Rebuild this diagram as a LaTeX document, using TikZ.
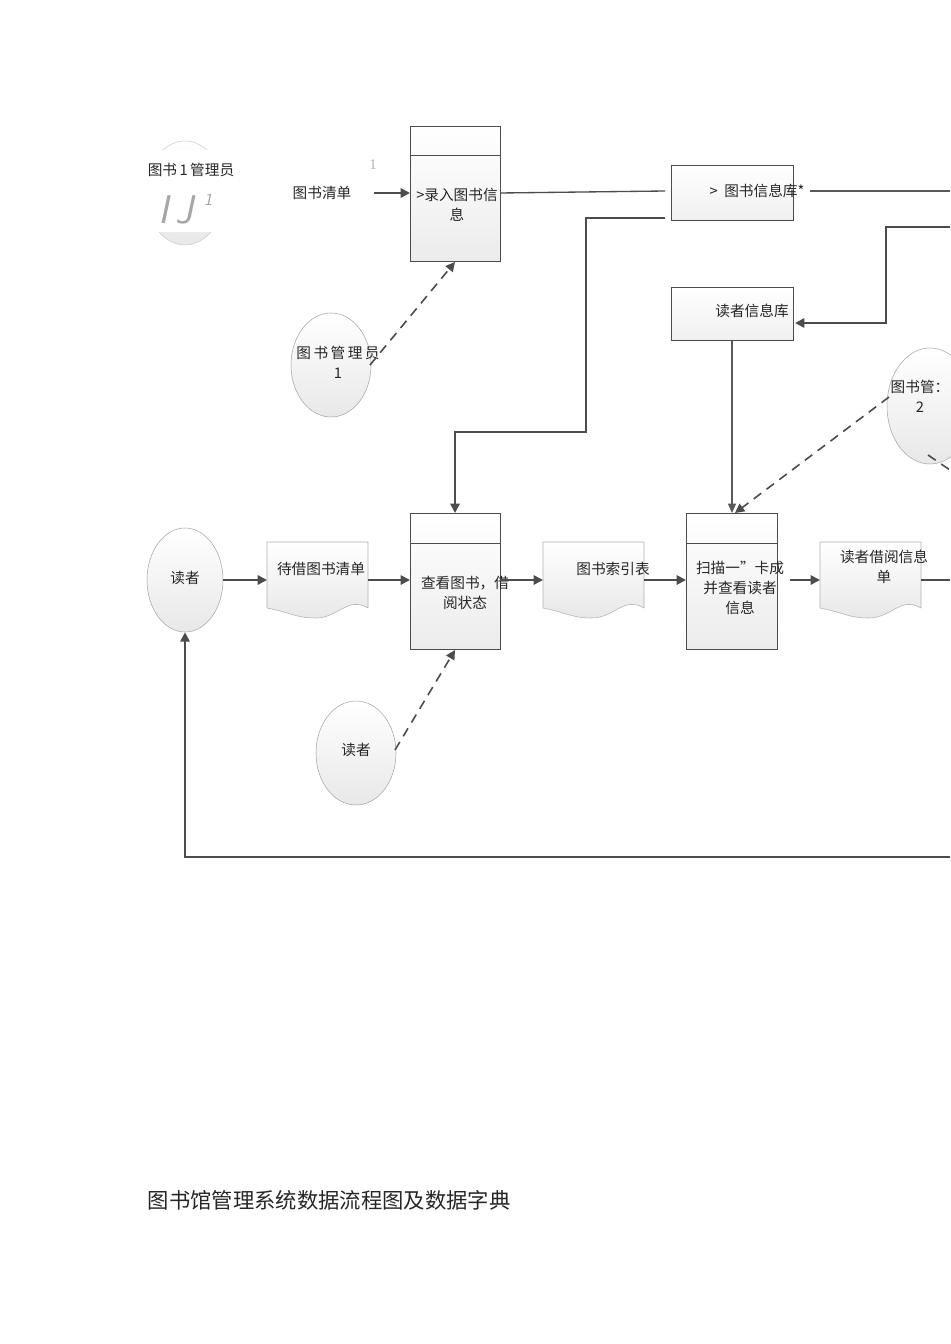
\documentclass[tikz,border=0pt]{standalone}
\usepackage{fontspec}
\setmainfont{Liberation Serif}
\newfontfamily\cjk{Noto Sans CJK SC}
\usetikzlibrary{arrows.meta,shapes.geometric}
\begin{document}
\begin{tikzpicture}[x=0.75pt,y=-0.75pt,
  every node/.style={font=\cjk\fontsize{11}{15}\selectfont,text=black!85},
  oval/.style={ellipse,draw=gray!70,top color=white,bottom color=gray!18,minimum width={78*0.75pt},minimum height={104*0.75pt},inner sep=0pt},
  proc/.style={draw=gray!60!black,top color=white,bottom color=gray!15,minimum width={90*0.75pt},minimum height={136*0.75pt},inner sep=0pt,anchor=north west},
  store/.style={draw=gray!60!black,top color=white,bottom color=gray!12,minimum width={122*0.75pt},minimum height={55*0.75pt},inner sep=0pt,anchor=north west},
  flow/.style={line width=1.4pt,draw=black!70,-{Triangle[length=7pt,width=7pt]}},
  thinflow/.style={line width=0.9pt,draw=black!65,-{Triangle[length=7pt,width=6pt]}},
  dflow/.style={line width=1.2pt,draw=black!70,dash pattern=on 7pt off 5pt,-{Triangle[length=7pt,width=7pt]}},
  line/.style={line width=1.2pt,draw=black!70}]
\useasboundingbox (0,0) rectangle (950,1344);
\fill[white] (0,0) rectangle (950,1344);
% top-left faint element
\node[oval,draw=gray!40] (adm0) at (185,193) {};
\fill[white] (140,150) rectangle (245,232);
\fill[white] (268,140) rectangle (372,232);
\node (adm0t) at (191,170) {图书\,1\,管理员};
\node[font=\sffamily\itshape\fontsize{30}{30}\selectfont,text=gray!70] (ij) at (176,210) {I\,J};
\node[font=\sffamily\itshape\fontsize{13}{13}\selectfont,text=gray!70] (ij1) at (208,200) {1};
\node (list) at (322,193) {图书清单};
\node[font=\fontsize{11}{11}\selectfont,text=gray!60] (one) at (373,165) {1};
% process 1
\node[proc,minimum height={135*0.75pt}] (p1) at (410,126) {};
\draw[draw=gray!60!black] (410,155) -- (500,155);
\node[align=center] (p1t) at (457,205) {>录入图书信\\息};
\coordinate (l1) at (374,193);
\draw[flow] (l1) -- (410,193);
% store 1
\node[store] (s1) at (671,165) {};
\node (s1t) at (757,191) {>\ \ 图书信息库*};
\draw[line,line width=1pt] (500,193) -- (665,191);
\coordinate (r1) at (950,191);
\draw[line width=0.9pt,draw=black!65] (810,191) -- (r1);
% store 2
\node[store,minimum height={53*0.75pt}] (s2) at (671,287) {};
\node (s2t) at (752,311) {读者信息库};
\coordinate (r2) at (950,227);
\draw[flow] (r2) -- (886,227) -- (886,323) -- (795,323);
% admin 1 ellipse
\node[oval,minimum width={80*0.75pt}] (adm1) at (331,365) {};
\node[align=center] (adm1t) at (338,362) {图\,书\,管\,理\,员\\1};
\draw[dflow] (370,365) -- (455,262);
% admin 2
\node[oval,minimum width={86*0.75pt},minimum height={116*0.75pt}] (adm2) at (930,406) {};
\node[align=center] (adm2t) at (920,396) {图书管：\\2};
% row
\node[oval,minimum width={76*0.75pt}] (rd) at (185,580) {};
\node (rdt) at (185,578) {读者};
\foreach \n/\a in {d1/267,d2/543,d3/820}{
  \path[draw=gray!60,top color=white,bottom color=gray!18] (\a,542) -- ++(101,0) -- ++(0,66)
    .. controls ++(-20,-12) and ++(22,0) .. ++(-52,10) .. controls ++(-20,0) and ++(25,5) .. (\a,608) -- cycle;
  \coordinate (\n) at (\a+50,580);
}
\node (d1t) at (321,569) {待借图书清单};
\node (d2t) at (613,569) {图书索引表};
\node[align=center] (d3t) at (884,567) {读者借阅信息\\单};
\node[proc] (p2) at (410,513) {};
\draw[draw=gray!60!black] (410,543) -- (500,543);
\node[align=center] (p2t) at (465,593) {查看图书，借\\阅状态};
\node[proc,minimum width={91*0.75pt}] (p3) at (686,513) {};
\draw[draw=gray!60!black] (686,543) -- (777,543);
\node[align=center] (p3t) at (740,588) {扫描一”卡成\\并查看读者\\信息};
\draw[flow] (rd.east) -- (267,580);
\draw[flow] (368,580) -- (410,580);
\draw[flow] (500,580) -- (543,580);
\draw[flow] (644,580) -- (686,580);
\draw[flow] (790,580) -- (820,580);
\coordinate (r3) at (950,580);
\draw[line] (921,580) -- (r3);
% connections to row
\draw[flow] (665,218) -- (586,218) -- (586,432) -- (455,432) -- (455,513);
\draw[thinflow] (732,341) -- (732,513);
\draw[dflow] (889,397) -- (735,513);
\coordinate (r4) at (950,470);
\draw[line,dash pattern=on 7pt off 5pt] (928,455) -- (r4);
\node[oval,minimum width={80*0.75pt}] (rd2) at (356,753) {};
\node (rd2t) at (356,750) {读者};
\draw[dflow] (395,750) -- (455,650);
\coordinate (r5) at (950,857);
\draw[flow] (r5) -- (185,857) -- (rd.south);
\node[font=\cjk\fontsize{16}{16}\selectfont,anchor=west] (cap) at (143,1200) {图书馆管理系统数据流程图及数据字典};
\end{tikzpicture}
\end{document}
